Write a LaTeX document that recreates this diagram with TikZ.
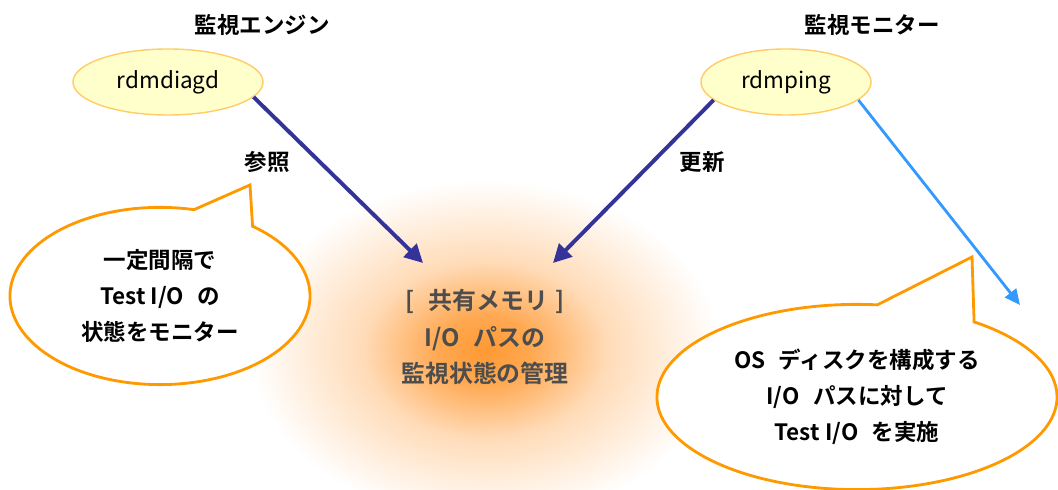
\documentclass[tikz,border=0pt]{standalone}
\usepackage{fontspec}
\setmainfont{Noto Sans CJK JP}[BoldFont={Noto Sans CJK JP Bold}]
\usetikzlibrary{shapes.geometric,shapes.callouts,arrows.meta}
\definecolor{refblue}{HTML}{333399}
\definecolor{pingblue}{HTML}{3399FF}
\definecolor{bubbleorange}{HTML}{FF9900}
\definecolor{glowfill}{HTML}{FF9933}
\definecolor{procfill}{HTML}{FFFFCC}
\definecolor{procline}{HTML}{FFCC66}
\definecolor{memtext}{HTML}{4D4D4D}
\pgfdeclareradialshading{memglow}{\pgfpoint{0bp}{0bp}}{color(0bp)=(glowfill); color(5bp)=(glowfill!85); color(13bp)=(glowfill!35); color(25bp)=(white); color(50bp)=(white)}
\tikzset{
	title/.style={font=\bfseries\fontsize{16}{19}\selectfont},
	edgelabel/.style={font=\bfseries\fontsize{16}{19}\selectfont},
	proc/.style={ellipse,draw=procline,fill=procfill,line width=1pt,minimum height=1.65cm,font=\fontsize{16}{19}\selectfont},
	mem/.style={align=center,text=memtext,font=\bfseries\fontsize{17}{26}\selectfont},
	bubble/.style={ellipse callout,draw=bubbleorange,fill=white,line width=2pt,align=center,font=\bfseries\fontsize{16}{25.5}\selectfont},
	refarrow/.style={draw=refblue,line width=2.8pt,-{Triangle[length=13pt,width=13pt]}},
	pingarrow/.style={draw=pingblue,line width=2pt,-{Triangle[length=11pt,width=10pt]}}
}
\begin{document}
\begin{tikzpicture}[x=0.025cm,y=0.025cm]
	\useasboundingbox (0,0) rectangle (1058,490);
	\shade[shading=memglow] (485,140) ellipse [x radius=235, y radius=170];
	\node[title] (enginelabel) at (262,465) {監視エンジン};
	\node[title] (monitorlabel) at (872,465) {監視モニター};
	\node[proc,minimum width=4.75cm] (diagd) at (168,408) {rdmdiagd};
	\node[proc,minimum width=4.25cm] (ping) at (786,408) {rdmping};
	\node[mem] (shm) at (485,153) {[\hspace{0.6em}共有メモリ\hspace{0.3em}]\\I/O\hspace{0.6em}パスの\\監視状態の管理};
	\coordinate (shmleft) at (423,227);
	\coordinate (shmright) at (553,227);
	\coordinate (disk) at (1020,185);
	\draw[refarrow] (diagd.-10) -- (shmleft);
	\draw[refarrow] (ping.194) -- (shmright);
	\draw[pingarrow] (ping.-14) -- (disk);
	\node[edgelabel] (readlabel) at (267,328) {参照};
	\node[edgelabel] (updatelabel) at (702,328) {更新};
	\node[bubble,minimum width=7.5cm,minimum height=4.43cm,callout absolute pointer={(250,305)},callout pointer arc=25] (enginenote) at (160,194) {一定間隔で\\Test I/O\hspace{0.6em}の\\状態をモニター};
	\node[bubble,minimum width=10cm,minimum height=4.63cm,callout absolute pointer={(972,233)},callout pointer arc=30] (pingnote) at (857,93) {OS\hspace{0.6em}ディスクを構成する\\I/O\hspace{0.6em}パスに対して\\Test I/O\hspace{0.6em}を実施};
\end{tikzpicture}
\end{document}
